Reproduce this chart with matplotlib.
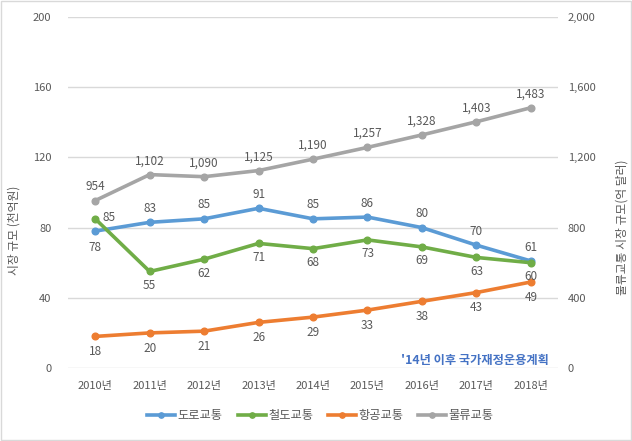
import matplotlib
matplotlib.use("Agg")
import matplotlib.pyplot as plt
from matplotlib.patches import Rectangle

plt.rcParams['font.family'] = ['Noto Sans CJK KR', 'DejaVu Sans']

years = ['2010년', '2011년', '2012년', '2013년', '2014년', '2015년', '2016년', '2017년', '2018년']
road = [78, 83, 85, 91, 85, 86, 80, 70, 61]
rail = [85, 55, 62, 71, 68, 73, 69, 63, 60]
air = [18, 20, 21, 26, 29, 33, 38, 43, 49]
logistics = [954, 1102, 1090, 1125, 1190, 1257, 1328, 1403, 1483]
left_ticks = [0, 40, 80, 120, 160, 200]
right_ticks = [0, 400, 800, 1200, 1600, 2000]

c_road = '#5B9BD5'
c_rail = '#70AD47'
c_air = '#ED7D31'
c_log = '#A5A5A5'
txt = '#595959'

fig = plt.figure(figsize=(6.32, 4.41), dpi=100)
fig.patches.append(Rectangle((0.002, 0.002), 0.996, 0.996, transform=fig.transFigure,
                             fill=False, edgecolor='#D9D9D9', linewidth=1))
ax = fig.add_axes([0.1076, 0.1655, 0.7754, 0.796])
ax2 = ax.twinx()

x = list(range(len(years)))
lw = 2.6
ms = 4.8
l1, = ax.plot(x, road, color=c_road, lw=lw, marker='o', ms=ms, label='도로교통', zorder=4)
l2, = ax.plot(x, rail, color=c_rail, lw=lw, marker='o', ms=ms, label='철도교통', zorder=4)
l3, = ax.plot(x, air, color=c_air, lw=lw, marker='o', ms=ms, label='항공교통', zorder=4)
l4, = ax2.plot(x, logistics, color=c_log, lw=lw, marker='o', ms=ms, label='물류교통', zorder=4)

ax.set_xlim(-0.5, len(years) - 0.5)
ax.set_ylim(0, 200)
ax2.set_ylim(0, 2000)
ax.set_yticks(left_ticks)
ax2.set_yticks(right_ticks)
ax2.set_yticklabels([f'{v:,}' for v in right_ticks])
ax.set_xticks(x)
ax.set_xticklabels(years)
ax.grid(axis='y', color='#D9D9D9', lw=1)
ax.set_axisbelow(True)
for a in (ax, ax2):
    for s in a.spines.values():
        s.set_visible(False)
    a.tick_params(length=0, colors=txt, labelsize=8)
ax.tick_params(axis='x', pad=9)
ax.tick_params(axis='y', pad=12)
ax2.tick_params(axis='y', pad=7)

fs = 8.5
kw = dict(fontsize=fs, color=txt, ha='center', textcoords='offset points', zorder=6)
for i, v in enumerate(road):
    if i == 0:
        ax.annotate(str(v), (i, v), xytext=(0, -12), va='center', **kw)
    else:
        ax.annotate(str(v), (i, v), xytext=(0, 10), va='center', **kw)
for i, v in enumerate(rail):
    if i == 0:
        ax.annotate(str(v), (i, v), xytext=(10, 1), va='center', **kw)
    else:
        ax.annotate(str(v), (i, v), xytext=(0, -10), va='center', **kw)
for i, v in enumerate(air):
    ax.annotate(str(v), (i, v), xytext=(0, -11), va='center', **kw)
for i, v in enumerate(logistics):
    ax2.annotate(f'{v:,}', (i, v), xytext=(0, 10), va='center', **kw)

fig.text(0.022, 0.478, '시장 규모 (천억원)', rotation=90, ha='center', va='center', fontsize=8.5, color=txt)
fig.text(0.984, 0.485, '물류교통 시장 규모(억 달러)', rotation=90, ha='center', va='center', fontsize=8.5, color=txt)

ax.text(0.982, 0.02, "'14년 이후 국가재정운용계획", transform=ax.transAxes, ha='right', va='center',
        fontsize=8.8, color='#4472C4', fontweight='bold')

fig.legend(handles=[l1, l2, l3, l4], loc='center', bbox_to_anchor=(0.507, 0.057), ncol=4,
           frameon=False, fontsize=8.8, labelcolor=txt, handlelength=2.3, handletextpad=0.2,
           columnspacing=1.2, markerscale=0.8)

fig.savefig('out.png', dpi=100)
